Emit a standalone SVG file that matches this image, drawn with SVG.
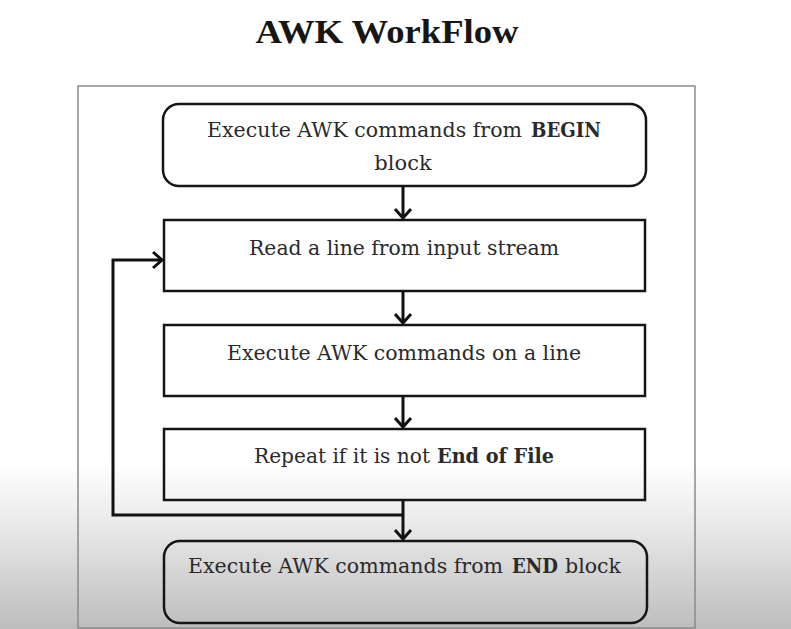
<svg xmlns="http://www.w3.org/2000/svg" width="791" height="629" viewBox="0 0 791 629">
<defs>
<linearGradient id="shade" x1="0" y1="0" x2="0" y2="1">
<stop offset="0" stop-color="#ffffff"/>
<stop offset="0.35" stop-color="#ebebeb"/>
<stop offset="1" stop-color="#bdbdbd"/>
</linearGradient>
<marker id="arr" markerUnits="userSpaceOnUse" viewBox="-12 -10 14 20" refX="0" refY="0" markerWidth="14" markerHeight="20" orient="auto">
<path d="M-9,-8 L0,0 L-9,8" fill="none" stroke="#111" stroke-width="3" stroke-linejoin="miter"/>
</marker>
<style>
.box{fill:none;stroke:#151515;stroke-width:2.5}
.lbl{font-family:"DejaVu Serif","Liberation Serif",serif;font-size:21px;fill:#2a2a2a}
.b{font-weight:bold}
.con{fill:none;stroke:#111;stroke-width:3}
</style>
</defs>
<rect x="0" y="0" width="791" height="629" fill="#ffffff"/>
<rect x="0" y="462" width="791" height="167" fill="url(#shade)"/>
<text x="387" y="43" text-anchor="middle" font-family="'Liberation Serif',serif" font-weight="bold" font-size="33" fill="#161616" textLength="263" lengthAdjust="spacingAndGlyphs">AWK WorkFlow</text>
<rect x="78" y="86" width="617" height="542" fill="none" stroke="#8a8a8a" stroke-width="1.5"/>
<g id="n1">
<rect class="box" x="163" y="104" width="483" height="82" rx="16"/>
<text class="lbl" x="207" y="137" textLength="315" lengthAdjust="spacingAndGlyphs">Execute AWK commands from</text>
<text class="lbl b" x="531" y="137" textLength="70" lengthAdjust="spacingAndGlyphs">BEGIN</text>
<text class="lbl" x="403" y="170" text-anchor="middle">block</text>
</g>
<g id="n2">
<rect class="box" x="164" y="220" width="481" height="71"/>
<text class="lbl" x="249" y="255" textLength="310" lengthAdjust="spacingAndGlyphs">Read a line from input stream</text>
</g>
<g id="n3">
<rect class="box" x="164" y="325" width="481" height="71"/>
<text class="lbl" x="227" y="360" textLength="354" lengthAdjust="spacingAndGlyphs">Execute AWK commands on a line</text>
</g>
<g id="n4">
<rect class="box" x="164" y="429" width="481" height="71"/>
<text class="lbl" x="254" y="463" textLength="176" lengthAdjust="spacingAndGlyphs">Repeat if it is not</text>
<text class="lbl b" x="437" y="463" textLength="117" lengthAdjust="spacingAndGlyphs">End of File</text>
</g>
<g id="n5">
<rect class="box" x="164" y="541" width="483" height="82" rx="16"/>
<text class="lbl" x="188" y="573" textLength="315" lengthAdjust="spacingAndGlyphs">Execute AWK commands from</text>
<text class="lbl b" x="512" y="573" textLength="46" lengthAdjust="spacingAndGlyphs">END</text>
<text class="lbl" x="565" y="573" textLength="56" lengthAdjust="spacingAndGlyphs">block</text>
</g>
<g id="connectors">
<line class="con" x1="403" y1="186" x2="403" y2="218" marker-end="url(#arr)"/>
<line class="con" x1="403" y1="291" x2="403" y2="323" marker-end="url(#arr)"/>
<line class="con" x1="403" y1="396" x2="403" y2="427" marker-end="url(#arr)"/>
<line class="con" x1="403" y1="500" x2="403" y2="539" marker-end="url(#arr)"/>
<polyline class="con" points="403,515 113,515 113,260 162,260" marker-end="url(#arr)"/>
</g>
</svg>
